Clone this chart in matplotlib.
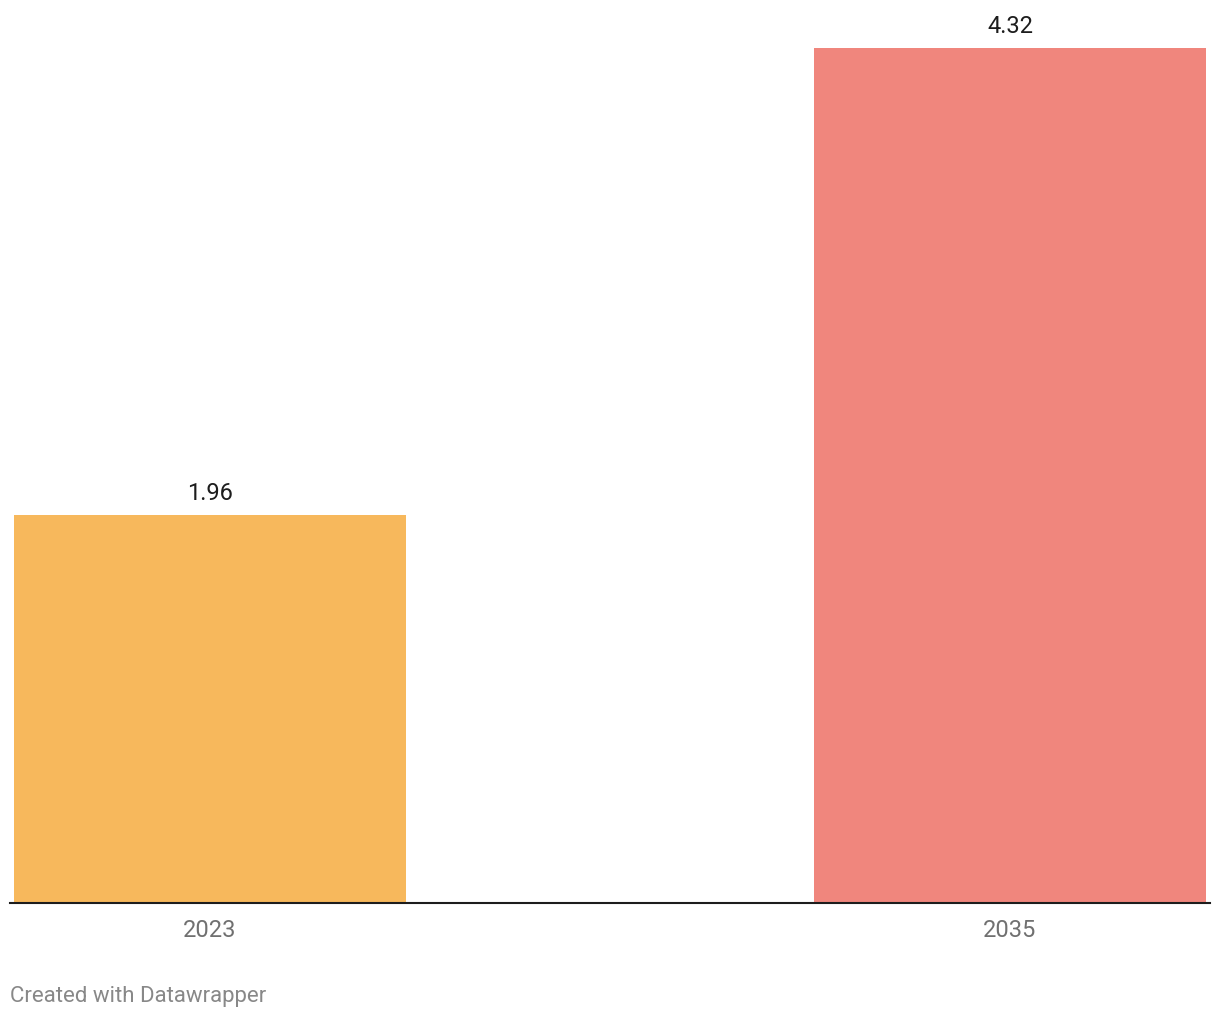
import matplotlib.pyplot as plt

plt.rcParams["font.family"] = ["Roboto", "DejaVu Sans"]

# data
years = ["2023", "2035"]
values = [1.96, 4.32]
colors = ["#f7b85c", "#f0867d"]

fig = plt.figure(figsize=(12.2, 10.2), dpi=100)
ax = fig.add_axes([10 / 1220, 116 / 1020, 1200 / 1220, 855 / 1020])

x = list(range(len(years)))
ax.bar(x, values, width=0.49, color=colors)
ax.set_xlim(-0.25, 1.25)
ax.set_ylim(0, max(values))

for xi, v in zip(x, values):
    ax.annotate(f"{v:.2f}", (xi, v), xytext=(0, 8), textcoords="offset points",
                ha="center", va="bottom", fontsize=17, color="#1d1d1d",
                annotation_clip=False)

ax.set_xticks(x)
ax.set_xticklabels(years, fontsize=17, color="#707070")
ax.tick_params(axis="x", length=0, pad=11)
ax.set_yticks([])
for side in ["top", "right", "left"]:
    ax.spines[side].set_visible(False)
ax.spines["bottom"].set_linewidth(1.5)
ax.spines["bottom"].set_color("#1d1d1d")

fig.text(10 / 1220, 1 - 997 / 1020, "Created with Datawrapper", fontsize=16,
         color="#888888", ha="left", va="center")

fig.savefig("out.png", dpi=100)
plt.close(fig)
